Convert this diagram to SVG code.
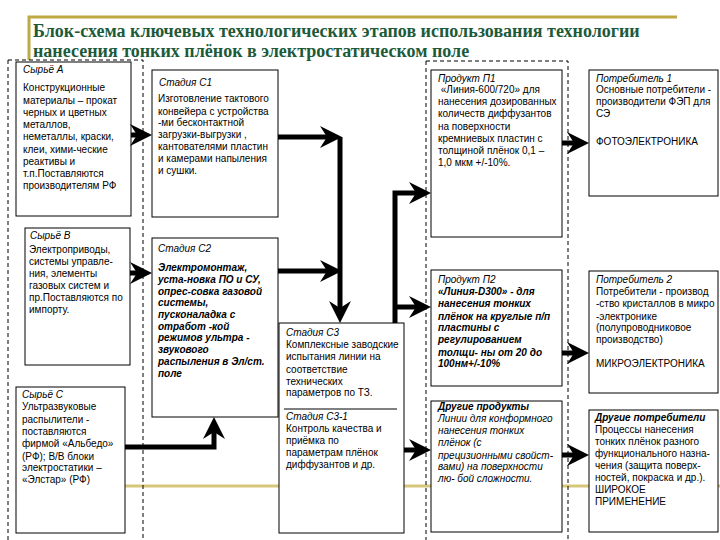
<svg xmlns="http://www.w3.org/2000/svg" width="720" height="540" viewBox="0 0 720 540">
<style>
.bg{fill:#ffffff}
.box{fill:#ffffff;stroke:#000000;stroke-width:1}
.dash{fill:none;stroke:#000000;stroke-width:1;stroke-dasharray:4 3}
.t{font-family:"Liberation Sans",Arial,sans-serif;font-size:10px;fill:#000000}
.i{font-style:italic}
.b{font-weight:bold}
.hd{font-family:"Liberation Serif","Times New Roman",Times,serif;font-size:18px;font-weight:700;fill:#1d5a3a}
.deco{stroke:#bfa944;stroke-width:3;fill:none}
.deco2{stroke:#d6c77a;stroke-width:3;fill:none}
.conn{fill:none;stroke:#000000;stroke-width:5;stroke-linejoin:miter}
</style>
<defs>
<marker id="arr" markerUnits="userSpaceOnUse" markerWidth="22" markerHeight="22" viewBox="0 0 22 22" refX="9" refY="11" orient="auto">
<path d="M0,0 L22,11 L0,22 L7,11 z" fill="#000000"/>
</marker>
</defs>
<rect class="bg" x="0" y="0" width="720" height="540"/>

<g id="title">
<path class="deco" d="M29,60 V17 H677"/>
<text class="hd" x="33" y="37" style="font-family:'Liberation Serif',serif">Блок-схема ключевых технологических этапов использования технологии</text>
<text class="hd" x="33" y="57" style="font-family:'Liberation Serif',serif">нанесения тонких плёнок в электростатическом поле</text>
</g>

<path class="deco2" d="M125,486 H720"/>

<g id="groups">
<rect class="dash" x="8" y="60" width="135" height="490"/>
<rect class="dash" x="426" y="61" width="142" height="490"/>
</g>

<g id="raw-a">
<rect class="box" x="16" y="62" width="115" height="154"/>
<text class="t"><tspan class="i" x="23" y="73">Сырьё А</tspan><tspan x="23" y="91">Конструкционные</tspan><tspan x="23" y="104">материалы – прокат</tspan><tspan x="23" y="116">черных и цветных</tspan><tspan x="23" y="128">металлов,</tspan><tspan x="23" y="140">неметаллы, краски,</tspan><tspan x="23" y="153">клеи, хими-ческие</tspan><tspan x="23" y="165">реактивы и</tspan><tspan x="23" y="177">т.п.Поставляются</tspan><tspan x="23" y="189">производителям  РФ</tspan></text>
</g>

<g id="stage-c1">
<rect class="box" x="152" y="70" width="126" height="147"/>
<text class="t"><tspan class="i" x="159" y="86">Стадия С1</tspan><tspan x="158" y="102">Изготовление тактового</tspan><tspan x="158" y="115">конвейера с устройства</tspan><tspan x="158" y="126">-ми  бесконтактной</tspan><tspan x="158" y="138">загрузки-выгрузки ,</tspan><tspan x="158" y="150">кантователями пластин</tspan><tspan x="158" y="162">и камерами напыления</tspan><tspan x="158" y="174">и сушки.</tspan></text>
</g>

<g id="raw-b">
<rect class="box" x="25" y="228" width="105" height="137"/>
<text class="t"><tspan class="i" x="30" y="239">Сырьё В</tspan><tspan x="29" y="253">Электроприводы,</tspan><tspan x="29" y="265">системы управле-</tspan><tspan x="29" y="277">ния, элементы</tspan><tspan x="29" y="289">газовых систем  и</tspan><tspan x="29" y="301">пр.Поставляются по</tspan><tspan x="29" y="313">импорту.</tspan></text>
</g>

<g id="stage-c2">
<rect class="box" x="152" y="238" width="126" height="179"/>
<text class="t"><tspan class="i" x="158" y="252">Стадия С2</tspan><tspan class="i b" x="158" y="271">Электромонтаж,</tspan><tspan class="i b" x="158" y="283">уста-новка ПО и СУ,</tspan><tspan class="i b" x="158" y="295">опрес-совка газовой</tspan><tspan class="i b" x="158" y="306">системы,</tspan><tspan class="i b" x="158" y="318">пусконаладка с</tspan><tspan class="i b" x="158" y="330">отработ -кой</tspan><tspan class="i b" x="158" y="341">режимов ультра -</tspan><tspan class="i b" x="158" y="353">звукового</tspan><tspan class="i b" x="158" y="365">распыления в Эл/ст.</tspan><tspan class="i b" x="158" y="377">поле</tspan></text>
</g>

<g id="raw-c">
<rect class="box" x="16" y="387" width="109" height="146"/>
<text class="t"><tspan class="i" x="22" y="398">Сырьё С</tspan><tspan x="22" y="410">Ультразвуковые</tspan><tspan x="22" y="423">распылители -</tspan><tspan x="22" y="435">поставляются</tspan><tspan x="22" y="447">фирмой «Альбедо»</tspan><tspan x="22" y="460">(РФ); В/В блоки</tspan><tspan x="22" y="471">электростатики –</tspan><tspan x="22" y="483">«Элстар» (РФ)</tspan></text>
</g>

<g id="stage-c3">
<rect class="box" x="279" y="323" width="125" height="210"/>
<line x1="284" y1="409" x2="397" y2="409" stroke="#000000" stroke-width="1"/>
<text class="t"><tspan class="i" x="286" y="336">Стадия С3</tspan><tspan x="286" y="348">Комплексные заводские</tspan><tspan x="286" y="360">испытания линии на</tspan><tspan x="286" y="373">соответствие</tspan><tspan x="286" y="385">технических</tspan><tspan x="286" y="396">параметров  по  ТЗ.</tspan><tspan class="i" x="286" y="420">Стадия С3-1</tspan><tspan x="286" y="432">Контроль качества  и</tspan><tspan x="286" y="444">приёмка по</tspan><tspan x="286" y="456">параметрам плёнок</tspan><tspan x="286" y="468">диффузантов  и др.</tspan></text>
</g>

<g id="product-p1">
<rect class="box" x="431" y="70" width="131" height="167"/>
<text class="t"><tspan class="i" x="438" y="82">Продукт П1</tspan><tspan x="438" y="93"> «Линия-600/720» для</tspan><tspan x="438" y="105">нанесения дозированных</tspan><tspan x="438" y="117">количеств диффузантов</tspan><tspan x="438" y="130">на поверхности</tspan><tspan x="438" y="142">кремниевых пластин с</tspan><tspan x="438" y="154">толщиной плёнок  0,1 –</tspan><tspan x="438" y="166">1,0 мкм +/-10%.</tspan></text>
</g>

<g id="consumer-1">
<rect class="box" x="589" y="70" width="129" height="126"/>
<text class="t"><tspan class="i" x="596" y="82">Потребитель 1</tspan><tspan x="596" y="93">Основные потребители -</tspan><tspan x="596" y="105">производители  ФЭП для</tspan><tspan x="596" y="117">СЭ</tspan><tspan x="596" y="145">ФОТОЭЛЕКТРОНИКА</tspan></text>
</g>

<g id="product-p2">
<rect class="box" x="431" y="270" width="131" height="116"/>
<text class="t"><tspan class="i" x="438" y="283">Продукт П2</tspan><tspan class="i b" x="438" y="295">«Линия-D300» - для</tspan><tspan class="i b" x="438" y="307">нанесения тонких</tspan><tspan class="i b" x="438" y="320">плёнок на круглые п/п</tspan><tspan class="i b" x="438" y="331">пластины с</tspan><tspan class="i b" x="438" y="343">регулированием</tspan><tspan class="i b" x="438" y="356">толщи- ны от 20 до</tspan><tspan class="i b" x="438" y="367">100нм+/-10%</tspan></text>
</g>

<g id="consumer-2">
<rect class="box" x="589" y="271" width="129" height="122"/>
<text class="t"><tspan class="i" x="596" y="283">Потребитель 2</tspan><tspan x="596" y="295">Потребители -  производ</tspan><tspan x="596" y="307">-ство кристаллов в микро</tspan><tspan x="596" y="320">-электронике</tspan><tspan x="596" y="331">(полупроводниковое</tspan><tspan x="596" y="343">производство)</tspan><tspan x="596" y="367">МИКРОЭЛЕКТРОНИКА</tspan></text>
</g>

<g id="other-products">
<rect class="box" x="431" y="401" width="131" height="131"/>
<text class="t"><tspan class="i b" x="438" y="410">Другие продукты</tspan><tspan class="i" x="438" y="422">Линии для конформного</tspan><tspan class="i" x="438" y="434">нанесения тонких</tspan><tspan class="i" x="438" y="446">плёнок (с</tspan><tspan class="i" x="438" y="459">прецизионными свойст-</tspan><tspan class="i" x="438" y="470">вами)  на поверхности</tspan><tspan class="i" x="438" y="482">лю- бой сложности.</tspan></text>
</g>

<g id="other-consumers">
<rect class="box" x="589" y="410" width="129" height="122"/>
<text class="t"><tspan class="i b" x="595" y="421">Другие потребители</tspan><tspan x="595" y="433">Процессы нанесения</tspan><tspan x="595" y="445">тонких плёнок разного</tspan><tspan x="595" y="457">функционального назна-</tspan><tspan x="595" y="469">чения (защита поверх-</tspan><tspan x="595" y="481">ностей, покраска и др.).</tspan><tspan x="595" y="493">ШИРОКОЕ</tspan><tspan x="595" y="505">ПРИМЕНЕНИЕ</tspan></text>
</g>

<g id="connectors">
<path class="conn" d="M131,135 H139" marker-end="url(#arr)"/>
<path class="conn" d="M130,273 H139" marker-end="url(#arr)"/>
<path class="conn" d="M125,447 H214 V430" marker-end="url(#arr)"/>
<path class="conn" d="M278,137 H329" marker-end="url(#arr)"/>
<path class="conn" d="M340,137 V310" marker-end="url(#arr)"/>
<path class="conn" d="M278,271 H329" marker-end="url(#arr)"/>
<path class="conn" d="M395,323 V193 H418" marker-end="url(#arr)"/>
<path class="conn" d="M395,307 H418" marker-end="url(#arr)"/>
<path class="conn" d="M404,450 H418" marker-end="url(#arr)"/>
<path class="conn" d="M562,143 H576" marker-end="url(#arr)"/>
<path class="conn" d="M562,353 H576" marker-end="url(#arr)"/>
<path class="conn" d="M562,455 H576" marker-end="url(#arr)"/>
</g>
</svg>
